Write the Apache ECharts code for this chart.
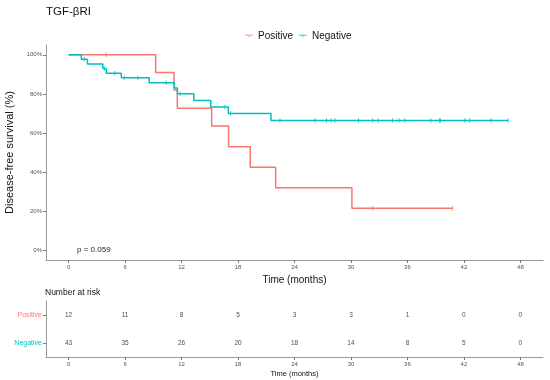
<!DOCTYPE html>
<html>
<head>
<meta charset="utf-8">
<script src="https://cdn.jsdelivr.net/npm/echarts@6/dist/echarts.min.js"></script>
<style>html,body{margin:0;padding:0;background:#fff}#c{width:550px;height:380px}</style>
</head>
<body>
<div id="c"></div>
<script>
// ---- data ----
const timeTicks = [0, 6, 12, 18, 24, 30, 36, 42, 48];
const survTicks = [0, 0.2, 0.4, 0.6, 0.8, 1];
const groups = ['Positive', 'Negative'];

const posTime = [0, 9.25, 11.2, 11.55, 15.2, 17.0, 19.3, 22.0, 30.1, 40.8];
const posSurv = [1, 0.909, 0.82, 0.727, 0.636, 0.53, 0.424, 0.32, 0.215, 0.215];
const posCensorTime = [4.0, 32.3, 40.8];

const negTime = [0, 1.35, 2.0, 3.64, 4.0, 5.6, 8.56, 11.24, 11.56, 13.3, 15.1, 16.97, 21.5, 46.7];
const negSurv = [1, 0.977, 0.953, 0.93, 0.906, 0.882, 0.857, 0.83, 0.8, 0.766, 0.733, 0.7, 0.664, 0.664];
const negCensorTime = [1.66, 3.8, 4.9, 5.9, 7.36, 10.36, 11.85, 16.6, 17.2, 22.45, 26.2, 27.4, 27.9, 28.3,
  30.8, 32.3, 32.9, 34.4, 35.1, 35.7, 38.5, 39.4, 39.5, 42.1, 42.6, 44.9, 46.7];

const posRisk = [12, 11, 8, 5, 3, 3, 1, 0, 0];
const negRisk = [43, 35, 26, 20, 18, 14, 8, 5, 0];

const pText = 'p = 0.059';

// ---- build ----
const RED = '#F8766D', TEAL = '#00BFC4';
function zip(t, s) { return t.map((v, i) => [v, s[i]]); }
function survAt(times, surv, t) {
  let s = surv[0];
  for (let i = 0; i < times.length; i++) { if (times[i] <= t) s = surv[i]; }
  return s;
}
const posCensor = posCensorTime.map(t => [t, survAt(posTime, posSurv, t)]);
const negCensor = negCensorTime.map(t => [t, survAt(negTime, negSurv, t)]);
const riskData = [];
timeTicks.forEach((t, i) => {
  riskData.push([t, 1, posRisk[i]]);
  riskData.push([t, 0, negRisk[i]]);
});

const FONT = 'Liberation Sans, Arial, sans-serif';
const axisLine = { show: true, onZero: false, lineStyle: { color: '#9a9a9a', width: 1 } };
const chart = echarts.init(document.getElementById('c'), null, { renderer: 'canvas' });
chart.setOption({
  animation: false,
  textStyle: { fontFamily: FONT },
  title: [
    { text: 'TGF-\u03b2RI', left: 46, top: 6, padding: 0, textStyle: { fontSize: 11.5, fontWeight: 'normal', color: '#111', fontFamily: FONT } },
    { text: 'Number at risk', left: 45, top: 288, padding: 0, textStyle: { fontSize: 8.5, fontWeight: 'normal', color: '#111', fontFamily: FONT } }
  ],
  legend: {
    data: groups,
    top: 26,
    left: 240,
    itemWidth: 8,
    itemHeight: 7,
    itemGap: 6,
    icon: 'path://M0,3.2H10V4.2H0Z M4.5,3.2H5.5V6.4H4.5Z',
    textStyle: { fontSize: 10, color: '#111', fontFamily: FONT }
  },
  grid: [
    { left: 46, right: 7, top: 45, bottom: 120, containLabel: false, outerBoundsMode: 'none' },
    { left: 46, right: 7, top: 301, bottom: 23, containLabel: false, outerBoundsMode: 'none' }
  ],
  xAxis: [
    {
      gridIndex: 0, type: 'value', min: -2.4, max: 50.4,
      axisLine, splitLine: { show: false },
      axisTick: { show: true, customValues: timeTicks, length: 3, lineStyle: { color: '#777' } },
      axisLabel: { customValues: timeTicks, fontSize: 6, color: '#555', margin: 4 },
      name: 'Time (months)', nameLocation: 'middle', nameGap: 15,
      nameTextStyle: { fontSize: 10, color: '#111' }
    },
    {
      gridIndex: 1, type: 'value', min: -2.4, max: 50.4,
      axisLine, splitLine: { show: false },
      axisTick: { show: true, customValues: timeTicks, length: 3, lineStyle: { color: '#777' } },
      axisLabel: { customValues: timeTicks, fontSize: 6, color: '#555', margin: 4 },
      name: 'Time (months)', nameLocation: 'middle', nameGap: 13,
      nameTextStyle: { fontSize: 7.5, color: '#111' }
    }
  ],
  yAxis: [
    {
      gridIndex: 0, type: 'value', min: -0.05, max: 1.05,
      axisLine, splitLine: { show: false },
      axisTick: { show: true, customValues: survTicks, length: 3, lineStyle: { color: '#777' } },
      axisLabel: { customValues: survTicks, fontSize: 6, color: '#555', margin: 4,
        formatter: v => Math.round(v * 100) + '%' },
      name: 'Disease-free survival (%)', nameLocation: 'middle', nameGap: 28,
      nameTextStyle: { fontSize: 11, color: '#111' }
    },
    {
      gridIndex: 1, type: 'category', data: ['Negative', 'Positive'],
      axisLine, splitLine: { show: false },
      axisTick: { show: true, alignWithLabel: true, length: 3, lineStyle: { color: '#777' } },
      axisLabel: { fontSize: 7, margin: 4,
        color: (v) => v === 'Positive' ? RED : TEAL }
    }
  ],
  graphic: [
    { type: 'text', left: 77, top: 246, style: { text: pText, fontSize: 8, fill: '#222', fontFamily: FONT } }
  ],
  series: [
    { name: 'Positive', type: 'line', step: 'end', data: zip(posTime, posSurv), showSymbol: false,
      symbol: 'none', lineStyle: { color: RED, width: 1.5 }, itemStyle: { color: RED }, z: 3 },
    { name: 'Negative', type: 'line', step: 'end', data: zip(negTime, negSurv), showSymbol: false,
      symbol: 'none', lineStyle: { color: TEAL, width: 1.5 }, itemStyle: { color: TEAL }, z: 4 },
    { name: 'Positive', type: 'scatter', data: posCensor, symbol: 'rect', symbolSize: [1, 4.5],
      itemStyle: { color: RED }, z: 5 },
    { name: 'Negative', type: 'scatter', data: negCensor, symbol: 'rect', symbolSize: [1, 4.5],
      itemStyle: { color: TEAL }, z: 6 },
    { name: 'risk', type: 'scatter', xAxisIndex: 1, yAxisIndex: 1, data: riskData,
      encode: { x: 0, y: 1 },
      symbolSize: 2, itemStyle: { color: 'rgba(0,0,0,0)' },
      label: { show: true, position: 'inside', formatter: p => String(p.value[2]),
        fontSize: 6.5, color: '#222', fontFamily: FONT } }
  ]
});
</script>
</body>
</html>
